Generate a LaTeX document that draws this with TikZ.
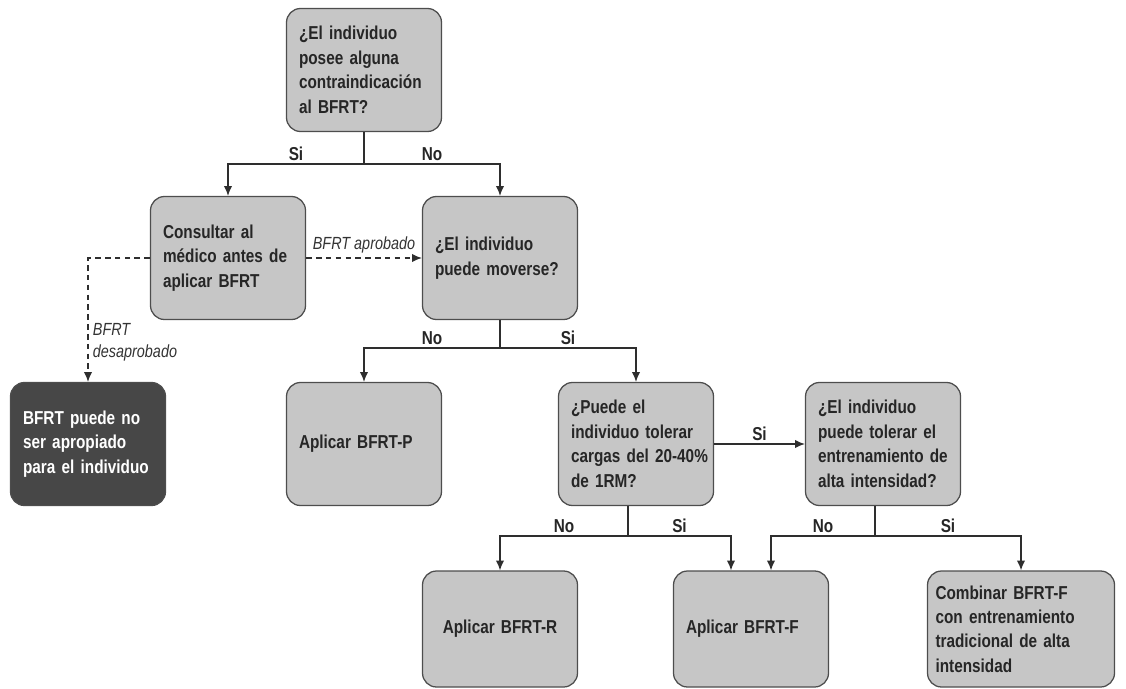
\documentclass[tikz,border=0pt]{standalone}
\usepackage{fontspec}
\setmainfont{Liberation Sans}[FakeStretch=0.82]
\usepackage{xcolor}
\usepackage{tikz}
\usetikzlibrary{positioning, arrows.meta}

\definecolor{boxgray}{HTML}{C6C6C6}
\definecolor{boxdark}{HTML}{474747}
\definecolor{linegray}{HTML}{2E2E2E}

\newcommand{\nohyph}{\hyphenpenalty=10000\relax\exhyphenpenalty=10000\relax}

\tikzset{
  box/.style={draw=linegray!85, fill=boxgray, rounded corners=0.35cm, line width=0.9pt,
    text width=3.25cm, inner xsep=0.3125cm, minimum height=3.075cm, align=left,
    font=\bfseries\fontsize{13.3}{17.4}\selectfont, execute at begin node=\nohyph,
    text=black!85},
  darkbox/.style={box, fill=boxdark, text=white},
  lowbox/.style={box, minimum height=2.9cm},
  arr/.style={->, >={Latex[length=7pt,width=6pt]}, draw=linegray, line width=1pt},
  dashedarr/.style={arr, dashed, dash pattern=on 4pt off 3pt},
  lbl/.style={font=\bfseries\fontsize{13.3}{16}\selectfont, text=black!85, inner sep=2pt},
  note/.style={font=\itshape\fontsize{12.5}{15.5}\selectfont, text=black!80, inner sep=3pt}
}

\begin{document}
\begin{tikzpicture}[node distance=2cm, on grid]
\useasboundingbox (0,0) rectangle (28.15,-17.2);

\node[box] (q0) at (9.1,-1.75) {¿El individuo\\posee alguna\\contraindicación\\al BFRT?};
\node[box, below left=4.7cm and 3.4cm of q0] (consult) {Consultar al\\médico antes de\\aplicar BFRT};
\node[box, right=6.8cm of consult] (mover) {¿El individuo\\puede moverse?};
\node[darkbox, below left=4.65cm and 3.5cm of consult] (noapto) {BFRT puede no\\ser apropiado\\para el individuo};
\node[box, below left=4.65cm and 3.4cm of mover] (bfrtp) {Aplicar BFRT-P};
\node[box, right=6.8cm of bfrtp] (cargas) {¿Puede el\\individuo tolerar\\\mbox{cargas del 20-40\%}\\de 1RM?};
\node[box, right=6.175cm of cargas] (alta) {¿El individuo\\puede tolerar el\\entrenamiento de\\alta intensidad?};
\node[lowbox, below left=4.625cm and 3.4cm of cargas, align=center] (bfrtr) {Aplicar BFRT-R};
\node[lowbox, right=6.275cm of bfrtr] (bfrtf) {Aplicar BFRT-F};
\node[lowbox, right=6.75cm of bfrtf, text width=4.275cm, inner xsep=0.2cm] (combinar) {Combinar BFRT-F\\con entrenamiento\\tradicional de alta\\intensidad};

% primera pregunta
\draw[draw=linegray, line width=1pt] (q0.south) -- ++(0,-0.8) coordinate (j0);
\draw[arr] (j0) -| node[lbl, pos=0.25, above] {Si} (consult.north);
\draw[arr] (j0) -| node[lbl, pos=0.25, above] {No} (mover.north);

% consulta medica
\draw[dashedarr] (consult) -- node[note, above] {BFRT aprobado} (mover);
\draw[dashedarr] (consult.west) -| node[note, pos=0.84, right, align=left] {BFRT\\desaprobado} (noapto.north);

% movilidad
\draw[draw=linegray, line width=1pt] (mover.south) -- ++(0,-0.7) coordinate (j1);
\draw[arr] (j1) -| node[lbl, pos=0.25, above] {No} (bfrtp.north);
\draw[arr] (j1) -| node[lbl, pos=0.25, above] {Si} (cargas.north);

% cargas
\draw[arr] (cargas) -- node[lbl, above] {Si} (alta);
\draw[draw=linegray, line width=1pt] ([xshift=-0.2cm]cargas.south) -- ++(0,-0.75) coordinate (j2);
\draw[arr] (j2) -| node[lbl, pos=0.25, above] {No} (bfrtr.north);
\draw[arr] (j2) -| node[lbl, pos=0.25, above] {Si} ([xshift=-0.5cm]bfrtf.north);

% alta intensidad
\draw[draw=linegray, line width=1pt] ([xshift=-0.2cm]alta.south) -- ++(0,-0.75) coordinate (j3);
\draw[arr] (j3) -| node[lbl, pos=0.25, above] {No} ([xshift=0.5cm]bfrtf.north);
\draw[arr] (j3) -| node[lbl, pos=0.25, above] {Si} (combinar.north);
\end{tikzpicture}
\end{document}
